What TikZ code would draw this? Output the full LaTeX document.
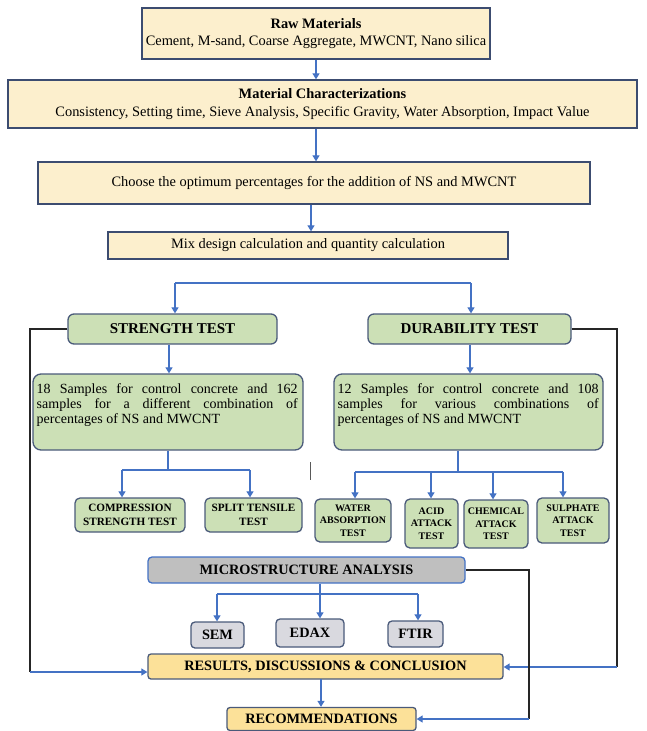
\documentclass[tikz,border=0pt]{standalone}
\usepackage{fontspec}
\setmainfont{Liberation Serif}
\usetikzlibrary{arrows.meta}
\definecolor{cream}{HTML}{FCEFCD}
\definecolor{creamline}{HTML}{3C4C70}
\definecolor{gfill}{HTML}{CCE0B6}
\definecolor{gline}{HTML}{4A5A7A}
\definecolor{grayfill}{HTML}{BFBFBF}
\definecolor{lgrayfill}{HTML}{D9D9DF}
\definecolor{gold}{HTML}{FCE199}
\definecolor{arrblue}{HTML}{4472C4}
\newcommand{\jline}[1]{\hbox to 261pt{\spaceskip=0pt\xspaceskip=0pt #1}}
\begin{document}
\begin{tikzpicture}[x=1pt,y=-1pt,
  basebox/.style={inner sep=0pt, align=center, line width=1.3pt},
  cbox/.style={basebox, draw=creamline, fill=cream, font=\fontsize{14.4}{17.5}\selectfont},
  gbox/.style={basebox, draw=gline, fill=gfill, rounded corners=6pt, font=\bfseries\fontsize{15}{17}\selectfont},
  sbox/.style={basebox, draw=gline, fill=gfill, rounded corners=8pt},
  stext/.style={inner sep=0pt, align=left, font=\fontsize{14}{15}\selectfont},
  tbox/.style={basebox, draw=gline, fill=gfill, rounded corners=5pt, font=\bfseries\fontsize{11.2}{14}\selectfont},
  ubox/.style={basebox, draw=gline, fill=gfill, rounded corners=5pt, font=\bfseries\fontsize{10}{12.5}\selectfont},
  mbox/.style={basebox, draw=arrblue, fill=grayfill, rounded corners=4pt, font=\bfseries\fontsize{14.3}{16}\selectfont},
  lbox/.style={basebox, draw=gline, fill=lgrayfill, rounded corners=4pt, font=\bfseries\fontsize{14.3}{16}\selectfont},
  ybox/.style={basebox, draw=gline, fill=gold, rounded corners=3pt, font=\bfseries\fontsize{14.3}{16}\selectfont},
  arr/.style={draw=arrblue, line width=1.2pt, -{Triangle[length=6pt,width=7pt]}},
  bline/.style={draw=arrblue, line width=1.2pt},
  fb/.style={draw=black!85, line width=1.3pt}
]
\useasboundingbox (0,0) rectangle (646,731);

% boxes
\node[cbox, minimum width=348pt, minimum height=51pt] (raw) at (316,33.5)
  {\textbf{Raw Materials}\\Cement, M-sand, Coarse Aggregate, MWCNT, Nano silica};
\node[cbox, minimum width=629pt, minimum height=48pt] (mat) at (322.5,104)
  {\textbf{Material Characterizations}\\Consistency, Setting time, Sieve Analysis, Specific Gravity, Water Absorption, Impact Value};
\node[cbox, minimum width=552pt, minimum height=42pt] (choose) at (314,183)
  {Choose the optimum percentages for the addition of NS and MWCNT};
\node[cbox, minimum width=400pt, minimum height=27pt] (mix) at (308,245.5)
  {Mix design calculation and quantity calculation};

\node[gbox, minimum width=209pt, minimum height=30pt] (strength) at (172.5,329) {STRENGTH TEST};
\node[gbox, minimum width=203pt, minimum height=30pt] (durability) at (469.5,329) {DURABILITY TEST};

\node[sbox, minimum width=270pt, minimum height=76pt] (samp1) at (168,412) {};
\node[stext, anchor=west] (samp1t) at (36.5,405)
  {\jline{18 Samples for control concrete and 162}\\
   \jline{samples for a different combination of}\\
   percentages of NS and MWCNT};
\node[sbox, minimum width=269pt, minimum height=76pt] (samp2) at (468.5,412) {};
\node[stext, anchor=west] (samp2t) at (337.5,405)
  {\jline{12 Samples for control concrete and 108}\\
   \jline{samples for various combinations of}\\
   percentages of NS and MWCNT};

\node[tbox, minimum width=110pt, minimum height=34pt] (comp) at (130,515) {COMPRESSION\\STRENGTH TEST};
\node[tbox, minimum width=97pt, minimum height=34pt] (split) at (253.5,515) {SPLIT TENSILE\\TEST};
\node[ubox, minimum width=76pt, minimum height=43pt] (water) at (353,520.5) {WATER\\ABSORPTION\\TEST};
\node[ubox, minimum width=53pt, minimum height=49pt] (acid) at (431.5,523.5) {ACID\\ATTACK\\TEST};
\node[ubox, minimum width=64pt, minimum height=48pt] (chem) at (496,524) {CHEMICAL\\ATTACK\\TEST};
\node[ubox, minimum width=72pt, minimum height=45pt] (sulph) at (573,520.5) {SULPHATE\\ATTACK\\TEST};

\node[mbox, minimum width=317pt, minimum height=26pt] (micro) at (306.5,570) {MICROSTRUCTURE ANALYSIS};
\node[lbox, minimum width=53pt, minimum height=26pt] (sem) at (217.5,635) {SEM};
\node[lbox, minimum width=68pt, minimum height=28pt] (edax) at (310,633) {EDAX};
\node[lbox, minimum width=55pt, minimum height=26pt] (ftir) at (415.5,634) {FTIR};

\node[ybox, minimum width=355pt, minimum height=25pt] (results) at (325.5,666.5) {RESULTS, DISCUSSIONS \& CONCLUSION};
\node[ybox, minimum width=189pt, minimum height=23pt] (recom) at (321.5,719) {RECOMMENDATIONS};

% main flow
\coordinate (v1) at (316,0);
\coordinate (v2) at (311,0);
\draw[arr] (raw.south -| v1) -- (mat.north -| v1);
\draw[arr] (mat.south -| v1) -- (choose.north -| v1);
\draw[arr] (choose.south -| v2) -- (mix.north -| v2);

% branch to strength / durability
\coordinate (bl) at (175,283);
\coordinate (br) at (471,283);
\draw[bline] (bl) -- (br);
\draw[arr] (bl) -- (bl |- strength.north);
\draw[arr] (br) -- (br |- durability.north);

\coordinate (v3) at (169,0);
\coordinate (v4) at (470,0);
\draw[arr] (strength.south -| v3) -- (samp1.north -| v3);
\draw[arr] (durability.south -| v4) -- (samp2.north -| v4);

% strength tests
\coordinate (h1) at (168,470);
\coordinate (c1) at (122,470);
\coordinate (c2) at (250,470);
\draw[bline] (samp1.south) -- (h1);
\draw[bline] (c1) -- (c2);
\draw[arr] (c1) -- (c1 |- comp.north);
\draw[arr] (c2) -- (c2 |- split.north);

% durability tests
\coordinate (h2) at (458,472);
\coordinate (d1) at (355,472);
\coordinate (d2) at (431,472);
\coordinate (d3) at (493,472);
\coordinate (d4) at (563,472);
\draw[bline] (samp2.south -| h2) -- (h2);
\draw[bline] (d1) -- (d4);
\draw[arr] (d1) -- (d1 |- water.north);
\draw[arr] (d2) -- (d2 |- acid.north);
\draw[arr] (d3) -- (d3 |- chem.north);
\draw[arr] (d4) -- (d4 |- sulph.north);

% stray tick
\draw[black!65, line width=1pt] (310,462) -- (310,480);

% microstructure
\coordinate (m0) at (320,594);
\coordinate (e1) at (217,594);
\coordinate (e3) at (418,594);
\draw[bline] (micro.south -| m0) -- (m0);
\draw[bline] (e1) -- (e3);
\draw[arr] (e1) -- (e1 |- sem.north);
\draw[arr] (m0) -- (m0 |- edax.north);
\draw[arr] (e3) -- (e3 |- ftir.north);

% results -> recommendations
\coordinate (rr) at (321,679);
\draw[arr] (rr) -- (rr |- recom.north);

% feedback lines
\coordinate (L) at (30,672);
\draw[fb] (strength.west) -| (L);
\draw[arr] (L) -- (L -| results.west);
\coordinate (R) at (617,667);
\draw[fb] (durability.east) -| (R);
\draw[arr] (R) -- (R -| results.east);
\coordinate (M) at (529,719);
\draw[fb] (micro.east) -| (M);
\draw[arr] (M) -- (M -| recom.east);
\end{tikzpicture}
\end{document}
